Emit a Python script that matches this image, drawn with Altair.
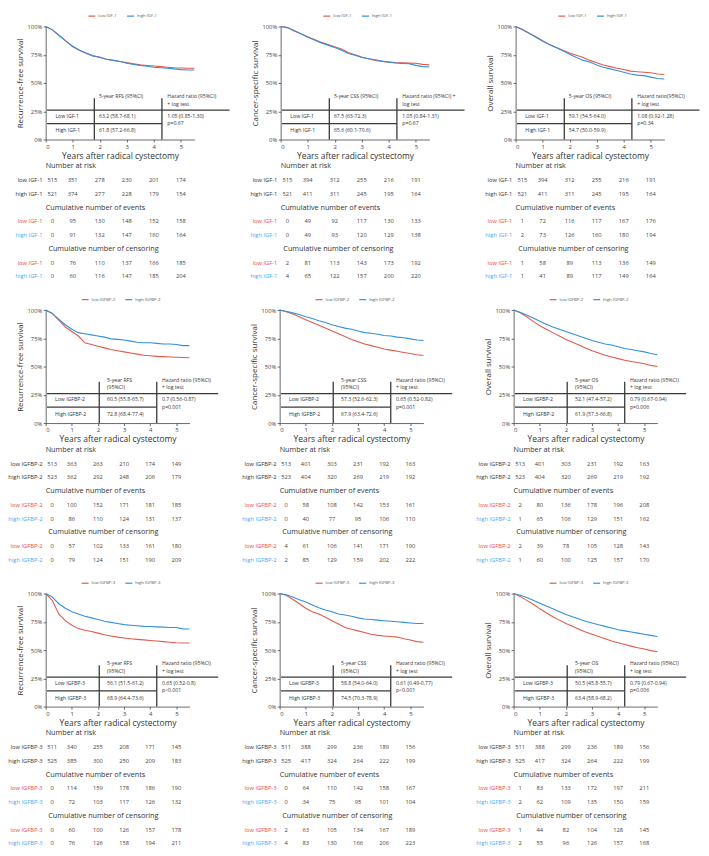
import altair as alt
import pandas as pd

# ---------------- data ----------------
YEARS = [0.0, 0.25, 0.5, 0.75, 1.0, 1.25, 1.5, 1.75, 2.0, 2.25, 2.5, 2.75,
         3.0, 3.25, 3.5, 3.75, 4.0, 4.25, 4.5, 4.75, 5.0, 5.25, 5.5]
TICK_YEARS = [0, 1, 2, 3, 4, 5]

# survival curves (fraction surviving)
rfs_igf1_low = [1, .97, .92, .87, .82, .79, .76, .74, .73, .71, .70, .69, .68, .67, .66, .655, .65, .645, .64, .635, .632, .63, .63]
rfs_igf1_high = [1, .97, .92, .87, .825, .79, .765, .74, .725, .71, .70, .69, .675, .665, .655, .648, .64, .635, .63, .625, .618, .615, .615]
css_igf1_low = [1, .99, .96, .935, .91, .885, .86, .84, .82, .80, .77, .75, .73, .715, .70, .69, .685, .68, .678, .676, .675, .665, .66]
css_igf1_high = [1, .99, .965, .935, .905, .88, .855, .835, .815, .79, .76, .745, .725, .715, .705, .695, .685, .677, .673, .67, .656, .645, .642]
os_igf1_low = [1, .975, .94, .91, .875, .84, .815, .79, .765, .745, .725, .70, .68, .66, .645, .63, .62, .605, .60, .595, .59, .58, .575]
os_igf1_high = [1, .97, .94, .905, .87, .84, .815, .785, .755, .725, .70, .685, .66, .64, .625, .61, .595, .58, .57, .565, .552, .54, .535]

rfs_bp2_low = [1, .97, .91, .85, .81, .77, .71, .695, .68, .665, .65, .64, .63, .62, .61, .60, .595, .59, .588, .585, .582, .58, .578]
rfs_bp2_high = [1, .97, .92, .87, .83, .80, .79, .78, .77, .76, .745, .74, .735, .725, .715, .71, .71, .705, .70, .70, .695, .685, .685]
css_bp2_low = [1, .985, .965, .94, .915, .89, .865, .84, .815, .79, .765, .74, .72, .70, .685, .67, .655, .645, .635, .625, .615, .605, .598]
css_bp2_high = [1, .99, .975, .96, .94, .925, .905, .89, .87, .855, .84, .83, .815, .80, .795, .785, .775, .77, .76, .755, .745, .735, .73]
os_bp2_low = [1, .975, .94, .90, .86, .83, .80, .77, .74, .715, .69, .665, .64, .62, .60, .585, .57, .555, .545, .535, .525, .51, .50]
os_bp2_high = [1, .98, .955, .93, .90, .875, .85, .83, .81, .79, .77, .75, .73, .715, .70, .69, .675, .66, .65, .64, .63, .615, .605]

rfs_bp3_low = [1, .94, .82, .76, .72, .69, .675, .665, .65, .635, .625, .615, .607, .60, .595, .59, .585, .58, .575, .57, .565, .563, .563]
rfs_bp3_high = [1, .97, .91, .87, .84, .82, .80, .785, .77, .755, .745, .735, .725, .72, .715, .71, .708, .705, .703, .70, .70, .688, .687]
css_bp3_low = [1, .985, .95, .91, .87, .84, .82, .79, .76, .73, .70, .685, .67, .655, .64, .63, .625, .62, .615, .60, .59, .575, .57]
css_bp3_high = [1, .99, .97, .945, .925, .90, .875, .855, .84, .82, .81, .80, .785, .775, .77, .765, .76, .755, .75, .745, .74, .735, .735]
os_bp3_low = [1, .975, .94, .905, .865, .83, .795, .765, .735, .71, .685, .66, .64, .62, .60, .58, .565, .55, .535, .52, .51, .495, .485]
os_bp3_high = [1, .985, .965, .94, .915, .89, .865, .84, .815, .795, .775, .755, .74, .725, .71, .695, .68, .67, .66, .65, .64, .63, .62]

# number at risk / cumulative events / cumulative censoring: [low, high]
rfs_igf1_risk = [[515, 351, 278, 230, 201, 174], [521, 374, 277, 228, 179, 154]]
rfs_igf1_events = [[0, 95, 130, 148, 152, 158], [0, 91, 132, 147, 160, 164]]
rfs_igf1_cens = [[0, 76, 110, 137, 166, 185], [0, 60, 116, 147, 185, 204]]
css_igf1_risk = [[515, 394, 312, 255, 216, 191], [521, 411, 311, 245, 195, 164]]
css_igf1_events = [[0, 49, 92, 117, 130, 133], [0, 49, 93, 120, 129, 138]]
css_igf1_cens = [[2, 81, 113, 143, 173, 192], [4, 65, 122, 157, 200, 220]]
os_igf1_risk = [[515, 394, 312, 255, 216, 191], [521, 411, 311, 245, 195, 164]]
os_igf1_events = [[1, 72, 116, 117, 167, 176], [2, 73, 126, 160, 180, 194]]
os_igf1_cens = [[1, 58, 89, 113, 136, 149], [1, 41, 89, 117, 149, 164]]

rfs_bp2_risk = [[513, 363, 263, 210, 174, 149], [523, 362, 292, 248, 206, 179]]
rfs_bp2_events = [[0, 100, 152, 171, 181, 185], [0, 86, 110, 124, 131, 137]]
rfs_bp2_cens = [[0, 57, 102, 133, 161, 180], [0, 79, 124, 151, 190, 209]]
css_bp2_risk = [[513, 401, 303, 231, 192, 163], [523, 404, 320, 269, 219, 192]]
css_bp2_events = [[0, 58, 108, 142, 153, 161], [0, 40, 77, 95, 106, 110]]
css_bp2_cens = [[4, 61, 106, 141, 171, 190], [2, 85, 129, 159, 202, 222]]
os_bp2_risk = [[513, 401, 303, 231, 192, 163], [523, 404, 320, 269, 219, 192]]
os_bp2_events = [[2, 80, 136, 178, 196, 208], [1, 65, 106, 129, 151, 162]]
os_bp2_cens = [[2, 39, 78, 105, 128, 143], [1, 60, 100, 125, 157, 170]]

rfs_bp3_risk = [[511, 340, 255, 208, 171, 145], [525, 385, 300, 250, 209, 183]]
rfs_bp3_events = [[0, 114, 159, 178, 186, 190], [0, 72, 103, 117, 126, 132]]
rfs_bp3_cens = [[0, 60, 100, 126, 157, 178], [0, 76, 126, 158, 194, 211]]
css_bp3_risk = [[511, 388, 299, 236, 189, 156], [525, 417, 324, 264, 222, 199]]
css_bp3_events = [[0, 64, 110, 142, 158, 167], [0, 34, 75, 95, 101, 104]]
css_bp3_cens = [[2, 63, 105, 134, 167, 189], [4, 83, 130, 166, 206, 223]]
os_bp3_risk = [[511, 388, 299, 236, 189, 156], [525, 417, 324, 264, 222, 199]]
os_bp3_events = [[1, 83, 133, 172, 197, 211], [2, 62, 109, 135, 150, 159]]
os_bp3_cens = [[1, 44, 82, 104, 128, 145], [2, 55, 96, 126, 157, 168]]

# inset table texts
rfs_igf1_stats = ["63.2 (58.7-68.1)", "61.8 (57.2-66.8)", "1.05 (0.85-1.30)", "p=0.67"]
css_igf1_stats = ["67.5 (63-72.3)", "65.6 (60.1-70.6)", "1.05 (0.84-1.31)", "p=0.67"]
os_igf1_stats = ["59.1 (54.5-64.0)", "54.7 (50.0-59.9)", "1.08 (0.92-1.28)", "p=0.34"]
rfs_bp2_stats = ["60.5 (55.8-65.7)", "72.8 (68.4-77.4)", "0.7 (0.56-0.87)", "p=0.001"]
css_bp2_stats = ["57.3 (52.6-62.3)", "67.9 (63.4-72.6)", "0.65 (0.52-0.82)", "p=0.001"]
os_bp2_stats = ["52.1 (47.4-57.2)", "61.9 (57.3-66.8)", "0.79 (0.67-0.94)", "p=0.006"]
rfs_bp3_stats = ["56.1 (51.5-61.2)", "68.9 (64.4-73.6)", "0.65 (0.52-0.8)", "p<0.001"]
css_bp3_stats = ["58.8 (54.0-64.0)", "74.5 (70.3-78.9)", "0.61 (0.49-0.77)", "p<0.001"]
os_bp3_stats = ["50.5 (45.8-55.7)", "63.4 (58.9-68.2)", "0.79 (0.67-0.94)", "p=0.006"]

OUTCOMES = ["Recurrence-free survival", "Cancer-specific survival", "Overall survival"]
MARKERS = ["IGF-1", "IGFBP-2", "IGFBP-3"]

PANELS = [
    [dict(low=rfs_igf1_low, high=rfs_igf1_high, risk=rfs_igf1_risk, ev=rfs_igf1_events, ce=rfs_igf1_cens, st=rfs_igf1_stats,
          h1=["5-year RFS (95%CI)"], h2=["Hazard ratio (95%CI)", "+ log test"]),
     dict(low=css_igf1_low, high=css_igf1_high, risk=css_igf1_risk, ev=css_igf1_events, ce=css_igf1_cens, st=css_igf1_stats,
          h1=["5-year CSS (95%CI)"], h2=["Hazard ratio (95%CI) +", "log test"]),
     dict(low=os_igf1_low, high=os_igf1_high, risk=os_igf1_risk, ev=os_igf1_events, ce=os_igf1_cens, st=os_igf1_stats,
          h1=["5-year OS (95%CI)"], h2=["Hazard ratio(95%CI)", "+ log test"])],
    [dict(low=rfs_bp2_low, high=rfs_bp2_high, risk=rfs_bp2_risk, ev=rfs_bp2_events, ce=rfs_bp2_cens, st=rfs_bp2_stats,
          h1=["5-year RFS", "(95%CI)"], h2=["Hazard ratio (95%CI)", "+ log test"]),
     dict(low=css_bp2_low, high=css_bp2_high, risk=css_bp2_risk, ev=css_bp2_events, ce=css_bp2_cens, st=css_bp2_stats,
          h1=["5-year CSS", "(95%CI)"], h2=["Hazard ratio (95%CI)", "+ log test"]),
     dict(low=os_bp2_low, high=os_bp2_high, risk=os_bp2_risk, ev=os_bp2_events, ce=os_bp2_cens, st=os_bp2_stats,
          h1=["5-year OS", "(95%CI)"], h2=["Hazard ratio (95%CI)", "+ log test"])],
    [dict(low=rfs_bp3_low, high=rfs_bp3_high, risk=rfs_bp3_risk, ev=rfs_bp3_events, ce=rfs_bp3_cens, st=rfs_bp3_stats,
          h1=["5-year RFS", "(95%CI)"], h2=["Hazard ratio (95%CI)", "+ log test"]),
     dict(low=css_bp3_low, high=css_bp3_high, risk=css_bp3_risk, ev=css_bp3_events, ce=css_bp3_cens, st=css_bp3_stats,
          h1=["5-year CSS", "(95%CI)"], h2=["Hazard ratio (95%CI)", "+ log test"]),
     dict(low=os_bp3_low, high=os_bp3_high, risk=os_bp3_risk, ev=os_bp3_events, ce=os_bp3_cens, st=os_bp3_stats,
          h1=["5-year OS", "(95%CI)"], h2=["Hazard ratio (95%CI)", "+ log test"])],
]

# ---------------- layout / style ----------------
FONT = "Open Sans"
RED = "#e15b4c"
BLUE = "#3390dc"
LBL_RED = "#ec4a3f"
LBL_BLUE = "#49aaf2"
TXT = "#333333"
NUM = "#444444"
X_DOMAIN = [0, 5.5]
PLOT_H = 114
ROW_W = [150, 145, 145]
ROW_SPACING = [87, 91, 91]
ROW_HLINE_END = [6.8, 6.6, 6.6]
ROW_VLINES = [(1.8, 4.3), (2.05, 4.25), (2.05, 4.25)]
ROW_TXT_OFF = [0.17, 0.3, 0.3]
# inset table geometry in (years, survival) units
Y_HEAD = [0.385, 0.315]
Y_LOW, Y_P, Y_HIGH = 0.212, 0.145, 0.08
Y_HL1, Y_HL2, Y_VTOP = 0.26, 0.14, 0.365
LABEL_X = 0.36
TABLE_COL_X = [0.25, 1, 2, 3, 4, 5]
TABLE_LABEL_X = -0.12
TABLE_LINES = (141, 252)


def make_panel(r, c):
    spec = PANELS[r][c]
    marker = MARKERS[r]
    outcome = OUTCOMES[c]
    w = ROW_W[r]
    v1, v2 = ROW_VLINES[r]
    off = ROW_TXT_OFF[r]
    low_lab, high_lab = "low " + marker, "high " + marker
    n = len(YEARS)

    X = alt.X("x:Q", scale=alt.Scale(domain=X_DOMAIN, nice=False, zero=False),
              axis=alt.Axis(values=TICK_YEARS, format="d", title="Years after radical cystectomy"))
    Y = alt.Y("y:Q", scale=alt.Scale(domain=[0, 1], nice=False),
              axis=alt.Axis(values=[0, 0.25, 0.5, 0.75, 1], format=".0%", title=outcome))

    curve_df = pd.DataFrame({"x": YEARS + YEARS, "y": spec["low"] + spec["high"],
                             "g": [low_lab] * n + [high_lab] * n})
    est_w = 4.3 * 0.5 * (len(low_lab) + len(high_lab)) + 2 * 9 + 7
    curves = alt.Chart(curve_df).mark_line(strokeWidth=1.1).encode(
        x=X, y=Y,
        color=alt.Color("g:N", scale=alt.Scale(domain=[low_lab, high_lab], range=[RED, BLUE]),
                        legend=alt.Legend(orient="none", legendX=(w - est_w) / 2, legendY=-15,
                                          direction="horizontal", title=None, symbolType="stroke",
                                          symbolSize=49, symbolStrokeWidth=1.2, labelFontSize=4.3,
                                          labelFont=FONT, labelColor="#555555", columnPadding=7,
                                          labelOffset=2, padding=0)))

    seg_df = pd.DataFrame([
        dict(x=0.05, x2=ROW_HLINE_END[r], y=Y_HL1, y2=Y_HL1),
        dict(x=0.05, x2=v2, y=Y_HL2, y2=Y_HL2),
        dict(x=v1, x2=v1, y=0, y2=Y_VTOP),
        dict(x=v2, x2=v2, y=0, y2=Y_VTOP),
    ])
    rules = alt.Chart(seg_df).mark_rule(color="#3a3a3a", strokeWidth=1.3).encode(
        x=X, x2="x2:Q", y=Y, y2="y2:Q")

    st = spec["st"]
    rows = []
    for i, t in enumerate(spec["h1"]):
        rows.append(dict(x=v1 + off, y=Y_HEAD[i], text=t))
    for i, t in enumerate(spec["h2"]):
        rows.append(dict(x=v2 + 0.2, y=Y_HEAD[i], text=t))
    rows += [dict(x=LABEL_X, y=Y_LOW, text="Low " + marker),
             dict(x=LABEL_X, y=Y_HIGH, text="High " + marker),
             dict(x=v1 + off, y=Y_LOW, text=st[0]),
             dict(x=v1 + off, y=Y_HIGH, text=st[1]),
             dict(x=v2 + 0.2, y=Y_LOW, text=st[2]),
             dict(x=v2 + 0.2, y=Y_P, text=st[3])]
    stats = alt.Chart(pd.DataFrame(rows)).mark_text(
        align="left", baseline="middle", fontSize=5.2, font=FONT, color=TXT).encode(
        x=X, y=Y, text="text:N")

    km = alt.layer(curves, rules, stats)

    YT = alt.Y("line:Q", scale=alt.Scale(domain=[0, 8], range=list(TABLE_LINES)), axis=None)
    titles = pd.DataFrame([dict(x=0, line=0, text="Number at risk"),
                           dict(x=0, line=3, text="Cumulative number of events"),
                           dict(x=0.1, line=6, text="Cumulative number of censoring")])
    labels, nums = [], []
    blocks = [(spec["risk"], 1, [TXT, TXT]), (spec["ev"], 4, [LBL_RED, LBL_BLUE]),
              (spec["ce"], 7, [LBL_RED, LBL_BLUE])]
    for vals, start, cols in blocks:
        for k, (lab, col) in enumerate(zip([low_lab, high_lab], cols)):
            labels.append(dict(x=TABLE_LABEL_X, line=start + k, text=lab, c=col))
            for xx, v in zip(TABLE_COL_X, vals[k]):
                nums.append(dict(x=xx, line=start + k, text=str(v)))
    t_titles = alt.Chart(titles).mark_text(align="left", baseline="middle", fontSize=7.3,
                                           font=FONT, color=TXT).encode(x=X, y=YT, text="text:N")
    t_labels = alt.Chart(pd.DataFrame(labels)).mark_text(
        align="right", baseline="middle", fontSize=5.8, font=FONT).encode(
        x=X, y=YT, text="text:N", color=alt.Color("c:N", scale=None))
    t_nums = alt.Chart(pd.DataFrame(nums)).mark_text(
        align="center", baseline="middle", fontSize=5.8, font=FONT, color=NUM).encode(
        x=X, y=YT, text="text:N")
    table = alt.layer(t_titles, t_labels, t_nums)

    return alt.layer(km, table).resolve_scale(y="independent").properties(width=w, height=PLOT_H)


rows = []
for r in range(3):
    rows.append(alt.hconcat(*[make_panel(r, c) for c in range(3)], spacing=ROW_SPACING[r],
                            bounds="flush").resolve_scale(
        color="independent", x="independent", y="independent"))

chart = alt.concat(*rows, columns=1, spacing=16, align="none").resolve_scale(
    color="independent", x="independent", y="independent").properties(
    padding={"left": 0, "right": 0, "top": 0, "bottom": 0}).configure_view(
    stroke=None).configure_axis(
    grid=False, labelFont=FONT, titleFont=FONT, labelFontSize=5.8, labelColor="#444444",
    titleFontSize=8, titleFontWeight="normal", titleColor=TXT, domainColor="#444444",
    tickColor="#444444", tickSize=2.5, labelPadding=1.5, titlePadding=3, domainWidth=0.8,
    tickWidth=0.8).configure_axisX(titlePadding=2, labelFontSize=6, titleFontSize=8.5)

chart.save("out.html", embed_options={"renderer": "svg", "actions": False})
